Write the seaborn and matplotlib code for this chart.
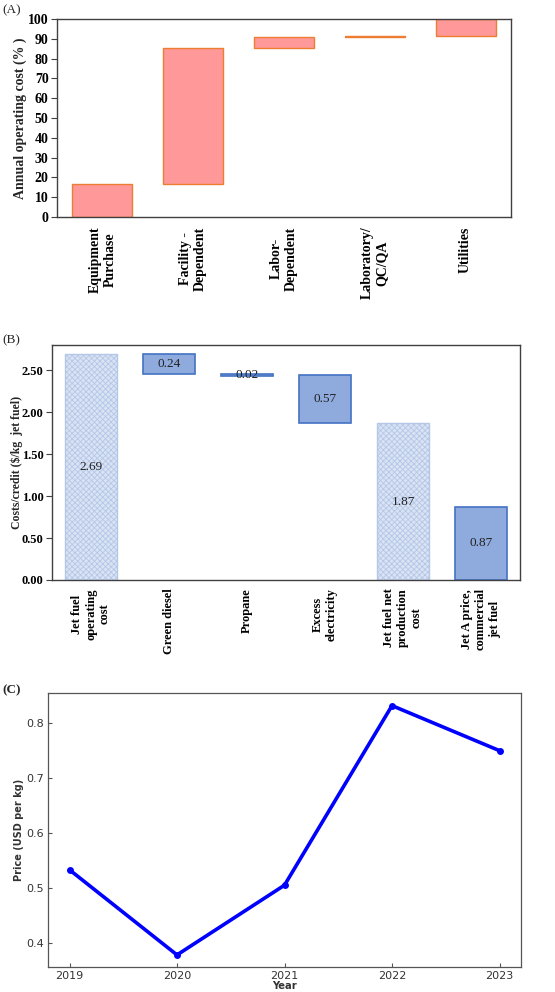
import matplotlib
matplotlib.use("Agg")
import matplotlib.pyplot as plt
import seaborn as sns
import pandas as pd

sns.set_theme(style="white")
plt.rcParams['font.family'] = ['DejaVu Sans']
plt.rcParams['hatch.linewidth'] = 0.6

SERIF = ['Liberation Serif', 'DejaVu Serif']

# ---------------- data ----------------
# Panel A: annual operating cost waterfall (%)
cats_a = ["Equipment\nPurchase", "Facility -\nDependent", "Labor-\nDependent",
          "Laboratory/\nQC/QA", "Utilities"]
start_a = [0.0, 16.5, 85.5, 91.0, 91.6]
end_a = [16.5, 85.5, 90.9, 91.5, 100.0]

# Panel B: costs / credits ($/kg jet fuel)
cats_b = ["Jet fuel\noperating\ncost", "Green diesel", "Propane", "Excess\nelectricity",
          "Jet fuel net\nproduction\ncost", "Jet A price,\ncommercial\njet fuel"]
start_b = [0.0, 2.45, 2.43, 1.87, 0.0, 0.0]
end_b = [2.69, 2.69, 2.45, 2.44, 1.87, 0.87]
labels_b = ["2.69", "0.24", "0.02", "0.57", "1.87", "0.87"]
kind_b = ["cost", "credit", "credit", "credit", "cost", "price"]

# Panel C: Jet A price
years = [2019, 2020, 2021, 2022, 2023]
price = [0.533, 0.378, 0.505, 0.832, 0.750]

# ---------------- figure ----------------
W, H = 555, 992
fig = plt.figure(figsize=(W / 100, H / 100), dpi=100)


def box(l, t, r, b):
    return [l / W, 1 - b / H, (r - l) / W, (b - t) / H]


# ---------- Panel A ----------
axA = fig.add_axes(box(57, 19, 511, 217))
dfa = pd.DataFrame({"cat": cats_a, "start": start_a, "end": end_a})
dfa["height"] = dfa["end"] - dfa["start"]
sns.barplot(data=dfa, x="cat", y="height", order=cats_a, bottom=dfa["start"].values,
            color="#FF9999", saturation=1, edgecolor="#ED7D31", linewidth=1.0,
            width=0.66, errorbar=None, ax=axA)
axA.set_xlim(-0.5, len(cats_a) - 0.5)
axA.set_ylim(0, 100)
axA.set_yticks(range(0, 101, 10))
axA.set_xlabel("")
axA.set_ylabel("Annual operating cost (% )", fontfamily=SERIF, fontweight="bold", fontsize=10)
axA.yaxis.set_label_coords(-0.066, 0.5)
axA.tick_params(axis="x", length=0, pad=7, labelrotation=90)
axA.tick_params(axis="y", length=4, width=0.8, direction="out", color="#404040", pad=2, left=True)
for t in axA.get_xticklabels():
    t.set_fontfamily(SERIF); t.set_fontweight("bold"); t.set_fontsize(10); t.set_color("black")
for t in axA.get_yticklabels():
    t.set_fontfamily(SERIF); t.set_fontweight("bold"); t.set_fontsize(10); t.set_color("black")
for s in axA.spines.values():
    s.set_color("#404040"); s.set_linewidth(1.0)

# ---------- Panel B ----------
axB = fig.add_axes(box(52, 345, 520, 580))
dfb = pd.DataFrame({"cat": cats_b, "start": start_b, "end": end_b, "kind": kind_b})
dfb["height"] = dfb["end"] - dfb["start"]
light = dfb[dfb["kind"] == "cost"]
dark = dfb[dfb["kind"] != "cost"]
sns.barplot(data=light, x="cat", y="height", order=cats_b, bottom=light["start"].values,
            color="#DAE3F4", saturation=1, edgecolor="#B4C7E7", linewidth=1.0,
            hatch="xxxxxx", width=0.66, errorbar=None, ax=axB)
sns.barplot(data=dark, x="cat", y="height", order=cats_b, bottom=dark["start"].values,
            color="#8FAADC", saturation=1, edgecolor="#4472C4", linewidth=1.2,
            width=0.66, errorbar=None, ax=axB)
for i, (s, e, lab) in enumerate(zip(start_b, end_b, labels_b)):
    axB.text(i, (s + e) / 2, lab, ha="center", va="center", fontfamily=SERIF,
             fontsize=9.5, color="#222222")
axB.set_xlim(-0.5, len(cats_b) - 0.5)
axB.set_ylim(0, 2.8)
axB.set_yticks([0, 0.5, 1.0, 1.5, 2.0, 2.5])
axB.set_yticklabels([f"{v:.2f}" for v in [0, 0.5, 1.0, 1.5, 2.0, 2.5]])
axB.set_xlabel("")
axB.set_ylabel("Costs/credit ($/kg  jet fuel)", fontfamily=SERIF, fontweight="bold", fontsize=8.5)
axB.yaxis.set_label_coords(-0.062, 0.5)
axB.tick_params(axis="x", length=0, pad=6, labelrotation=90)
axB.tick_params(axis="y", length=4, width=0.8, direction="out", color="#404040", pad=2, left=True)
for t in axB.get_xticklabels():
    t.set_fontfamily(SERIF); t.set_fontweight("bold"); t.set_fontsize(9); t.set_color("black")
for t in axB.get_yticklabels():
    t.set_fontfamily(SERIF); t.set_fontweight("bold"); t.set_fontsize(9); t.set_color("black")
for s in axB.spines.values():
    s.set_color("#404040"); s.set_linewidth(1.0)

# ---------- Panel C ----------
axC = fig.add_axes(box(48, 693, 521, 967))
dfc = pd.DataFrame({"Year": years, "Price": price})
sns.lineplot(data=dfc, x="Year", y="Price", color="#0000FF", linewidth=2.6,
             marker="o", markersize=5, markeredgewidth=0, ax=axC)
axC.set_xlim(2018.8, 2023.2)
axC.set_ylim(0.356, 0.855)
axC.set_xticks(years)
axC.set_yticks([0.4, 0.5, 0.6, 0.7, 0.8])
axC.set_xlabel("Year", fontweight="bold", fontsize=7.2, color="#333333")
axC.set_ylabel("Price (USD per kg)", fontweight="bold", fontsize=7, color="#333333")
axC.yaxis.set_label_coords(-0.051, 0.5)
axC.xaxis.set_label_coords(0.5, -0.05)
axC.tick_params(axis="both", direction="in", length=3, width=0.8, color="#555555",
                labelsize=8, labelcolor="#333333", pad=3, bottom=True, left=True)
for s in axC.spines.values():
    s.set_color("#555555"); s.set_linewidth(0.9)

# panel tags
fig.text(2 / W, 1 - 10 / H, "(A)", fontfamily=SERIF, fontsize=9.5, va="center", ha="left")
fig.text(2 / W, 1 - 340 / H, "(B)", fontfamily=SERIF, fontsize=9.5, va="center", ha="left")
fig.text(2 / W, 1 - 690 / H, "(C)", fontfamily=SERIF, fontsize=9.5, fontweight="bold",
         va="center", ha="left")

fig.savefig("out.png", dpi=100)
